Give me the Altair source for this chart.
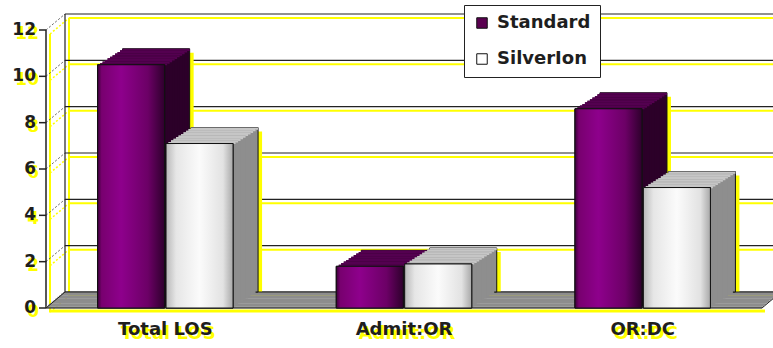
import altair as alt
import pandas as pd

# ---------------- data ----------------
categories = ["Total LOS", "Admit:OR", "OR:DC"]
series_names = ["Standard", "SilverIon"]
standard_values = [10.5, 1.8, 8.6]
silverion_values = [7.1, 1.9, 5.2]
y_ticks = [0, 2, 4, 6, 8, 10, 12]

rows = []
for c, v in zip(categories, standard_values):
    rows.append({"category": c, "series": "Standard", "value": v})
for c, v in zip(categories, silverion_values):
    rows.append({"category": c, "series": "SilverIon", "value": v})
df = pd.DataFrame(rows)
ticks_df = pd.DataFrame({"tick": y_ticks})
cat_df = pd.DataFrame({"category": categories})
one_df = pd.DataFrame({"k": [0]})

# ---------------- layout / style ----------------
W, H = 716, 278
BAR_DX, BAR_DY = 25.0, -16.0
WALL_DX, WALL_DY = 19.0, -16.0
N = 10
YEL = "#ffff00"
FONT = "DejaVu Sans"
TXT = "#1e1e1e"

PI, PO = 0.02, 0.754
band = W / len(categories)
step = band / (2 - PI + 2 * PO)
leftover = band - step * (2 - PI)

side_col = {"Standard": "#2c0029", "SilverIon": "#8e8e8e"}
top_col = {"Standard": "#540050", "SilverIon": "#c6c6c6"}
grad = {
    "Standard": [(0, "#3a0038"), (0.06, "#78006f"), (0.35, "#8e008c"),
                 (0.75, "#6c0066"), (1, "#2e002c")],
    "SilverIon": [(0, "#b8b8b8"), (0.15, "#e6e6e6"), (0.5, "#fbfbfb"),
                  (0.85, "#e2e2e2"), (1, "#a8a8a8")],
}

y_scale = alt.Scale(domain=[0, 12], nice=False, zero=True)
x_scale = alt.Scale(domain=categories, paddingInner=0, paddingOuter=0)


def xo_scale(shift=0.0):
    return alt.Scale(domain=series_names, paddingInner=PI, paddingOuter=PO,
                     align=0.5 + shift / leftover)


def bar_enc(shift=0.0, y2_same=False):
    enc = dict(
        x=alt.X("category:N", scale=x_scale, axis=None),
        xOffset=alt.XOffset("series:N", scale=xo_scale(shift)),
        y=alt.Y("value:Q", scale=y_scale, axis=None),
    )
    if y2_same:
        enc["y2"] = alt.Y2("value:Q")
    else:
        enc["y2"] = alt.datum(0)
    return enc


layers = []

# ---------- back wall & left wall ----------
layers.append(alt.Chart(ticks_df).mark_rule(color=YEL, strokeWidth=2, yOffset=WALL_DY + 4).encode(
    x=alt.value(WALL_DX + 4), x2=alt.value(W + 60), y=alt.Y("tick:Q", scale=y_scale, axis=None)))
layers.append(alt.Chart(ticks_df).mark_rule(color=YEL, strokeWidth=1.5, strokeDash=[2, 2],
                                             yOffset=4, y2Offset=WALL_DY + 4).encode(
    x=alt.value(4), x2=alt.value(WALL_DX + 4), y=alt.Y("tick:Q", scale=y_scale, axis=None),
    y2=alt.Y2("tick:Q")))
layers.append(alt.Chart(one_df).mark_rule(color=YEL, strokeWidth=2, yOffset=WALL_DY + 4,
                                           y2Offset=WALL_DY + 4).encode(
    x=alt.value(WALL_DX + 4), y=alt.datum(0), y2=alt.datum(12)))
layers.append(alt.Chart(one_df).mark_rule(color=YEL, strokeWidth=2, yOffset=4, y2Offset=4).encode(
    x=alt.value(4), y=alt.datum(0), y2=alt.datum(12)))
layers.append(alt.Chart(ticks_df).mark_rule(color="#222", strokeWidth=1.2, yOffset=WALL_DY).encode(
    x=alt.value(WALL_DX), x2=alt.value(W + 60), y=alt.Y("tick:Q", scale=y_scale, axis=None)))
layers.append(alt.Chart(ticks_df).mark_rule(color="#333", strokeWidth=0.8, strokeDash=[2, 2],
                                             y2Offset=WALL_DY).encode(
    x=alt.value(0), x2=alt.value(WALL_DX), y=alt.Y("tick:Q", scale=y_scale, axis=None),
    y2=alt.Y2("tick:Q")))
layers.append(alt.Chart(one_df).mark_rule(color="#222", strokeWidth=1.2, yOffset=WALL_DY,
                                           y2Offset=WALL_DY).encode(
    x=alt.value(WALL_DX), y=alt.datum(0), y2=alt.datum(12)))
layers.append(alt.Chart(one_df).mark_rule(color="#222", strokeWidth=1.5).encode(
    x=alt.value(0), y=alt.datum(0), y2=alt.datum(12)))
layers.append(alt.Chart(ticks_df).mark_rule(color="#222", strokeWidth=1.5).encode(
    x=alt.value(-7), x2=alt.value(0), y=alt.Y("tick:Q", scale=y_scale, axis=None)))

# ---------- yellow shadows of the bars (behind the floor) ----------
layers.append(alt.Chart(df).mark_bar(fill=YEL, yOffset=BAR_DY + 4,
                                     y2Offset=BAR_DY + 4).encode(**bar_enc(BAR_DX + 4)))

# ---------- floor ----------
layers.append(alt.Chart(one_df).mark_rule(color=YEL, strokeWidth=3, yOffset=3).encode(
    x=alt.value(3), x2=alt.value(W + 3), y=alt.datum(0)))
for k in range(N):
    y_top = WALL_DY * (k + 1) / N
    y_bot = WALL_DY * k / N
    sx = WALL_DX * k / N
    layers.append(alt.Chart(one_df).mark_rect(fill="#8d8d8d", yOffset=y_top, y2Offset=y_bot + 0.3).encode(
        x=alt.value(sx), x2=alt.value(W + sx), y=alt.datum(0), y2=alt.datum(0)))
layers.append(alt.Chart(one_df).mark_rule(color="#222", strokeWidth=1.2).encode(
    x=alt.value(0), x2=alt.value(W), y=alt.datum(0)))
layers.append(alt.Chart(one_df).mark_rule(color="#222", strokeWidth=1, yOffset=WALL_DY).encode(
    x=alt.value(WALL_DX), x2=alt.value(W + WALL_DX), y=alt.datum(0)))
layers.append(alt.Chart(one_df).mark_rule(color="#222", strokeWidth=1, y2Offset=WALL_DY).encode(
    x=alt.value(0), x2=alt.value(WALL_DX), y=alt.datum(0), y2=alt.datum(0)))
layers.append(alt.Chart(one_df).mark_rule(color="#222", strokeWidth=1, y2Offset=WALL_DY).encode(
    x=alt.value(W), x2=alt.value(W + WALL_DX), y=alt.datum(0), y2=alt.datum(0)))

# ---------- 3D extrusion of the bars ----------
for s in series_names:
    sdf = df[df["series"] == s]
    for k in range(N, 0, -1):
        dx = BAR_DX * k / N
        dy = BAR_DY * k / N
        stroke_kw = dict(stroke="#111", strokeWidth=1) if k == N else {}
        layers.append(alt.Chart(sdf).mark_bar(fill=side_col[s], yOffset=dy, y2Offset=dy,
                                              **stroke_kw).encode(**bar_enc(dx)))
        layers.append(alt.Chart(sdf).mark_bar(fill=top_col[s], yOffset=dy,
                                              y2Offset=dy - BAR_DY / N + 0.6).encode(**bar_enc(dx, True)))

# ---------- front faces (legend from this layer) ----------
layers.append(alt.Chart(df).mark_bar(stroke="#111", strokeWidth=1).encode(
    color=alt.Color("series:N", scale=alt.Scale(domain=series_names, range=["#5a0050", "#ffffff"]),
                    legend=alt.Legend(title=None, orient="none", legendX=418, legendY=-25,
                                      strokeColor="#222", fillColor="white", padding=9,
                                      rowPadding=18, labelFont=FONT, labelFontWeight="bold",
                                      labelFontSize=18, labelColor=TXT, symbolSize=110,
                                      symbolType="square", symbolStrokeColor="#111",
                                      symbolStrokeWidth=1, labelOffset=6, cornerRadius=0)),
    **bar_enc()))
for s in series_names:
    sdf = df[df["series"] == s]
    g = alt.Gradient(gradient="linear", x1=0, x2=1, y1=0, y2=0,
                     stops=[alt.GradientStop(offset=o, color=c) for o, c in grad[s]])
    layers.append(alt.Chart(sdf).mark_bar(fill=g, stroke="#111", strokeWidth=1).encode(**bar_enc()))

# ---------- texts ----------
layers.append(alt.Chart(ticks_df).mark_text(align="right", baseline="middle", font=FONT,
                                            fontWeight="bold", fontSize=17, color=YEL, dx=3, dy=4).encode(
    x=alt.value(-10), y=alt.Y("tick:Q", scale=y_scale, axis=None), text=alt.Text("tick:Q")))
layers.append(alt.Chart(ticks_df).mark_text(align="right", baseline="middle", font=FONT,
                                            fontWeight="bold", fontSize=17, color=TXT).encode(
    x=alt.value(-10), y=alt.Y("tick:Q", scale=y_scale, axis=None), text=alt.Text("tick:Q")))
layers.append(alt.Chart(cat_df).mark_text(align="center", baseline="middle", font=FONT,
                                          fontWeight="bold", fontSize=18, color=YEL, dx=3, dy=4).encode(
    x=alt.X("category:N", scale=x_scale, axis=None), y=alt.value(H + 22), text="category:N"))
layers.append(alt.Chart(cat_df).mark_text(align="center", baseline="middle", font=FONT,
                                          fontWeight="bold", fontSize=18, color=TXT).encode(
    x=alt.X("category:N", scale=x_scale, axis=None), y=alt.value(H + 22), text="category:N"))

chart = alt.layer(*layers).resolve_scale(xOffset="independent").properties(
    width=W, height=H,
    autosize=alt.AutoSizeParams(type="none"),
    padding={"left": 46, "top": 30, "right": 11, "bottom": 40},
    background="white",
).configure_view(stroke=None).configure_axis(disable=True)

chart.save("out.html", embed_options={"renderer": "svg", "actions": False})
